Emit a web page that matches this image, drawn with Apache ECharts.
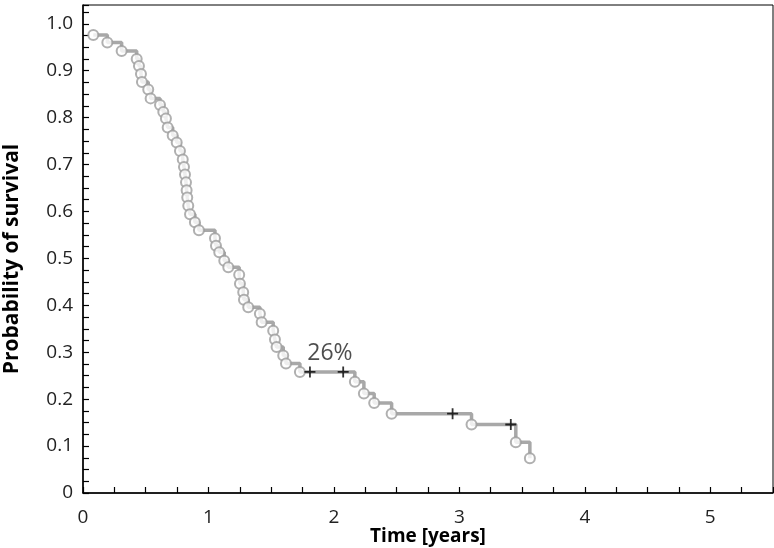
<!DOCTYPE html>
<html>
<head>
<meta charset="utf-8">
<script src="https://cdn.jsdelivr.net/npm/echarts@6/dist/echarts.min.js"></script>
<style>html,body{margin:0;padding:0;background:#fff}#c{width:774px;height:548px}</style>
</head>
<body>
<div id="c"></div>
<script>
// Event times (years) and survival probability after each event
const eventTimes = [0.082,0.194,0.308,0.428,0.446,0.462,0.470,0.520,0.539,0.614,0.640,0.661,0.675,0.715,0.747,0.773,0.795,0.805,0.813,0.821,0.826,0.831,0.839,0.853,0.892,0.924,1.052,1.060,1.086,1.126,1.158,1.245,1.251,1.277,1.283,1.317,1.410,1.424,1.516,1.530,1.543,1.596,1.618,1.729,2.167,2.239,2.321,2.460,3.097,3.450,3.562];
const eventSurv = [0.976,0.960,0.942,0.925,0.910,0.893,0.876,0.860,0.841,0.827,0.812,0.798,0.779,0.762,0.747,0.729,0.711,0.695,0.679,0.662,0.645,0.630,0.612,0.594,0.577,0.560,0.543,0.527,0.513,0.495,0.481,0.465,0.446,0.428,0.412,0.396,0.382,0.364,0.346,0.327,0.311,0.293,0.276,0.258,0.237,0.212,0.192,0.169,0.146,0.108,0.074];
// Censored observations
const censorTimes = [1.809,2.074,2.946,3.410];
const censorSurv = [0.258,0.258,0.169,0.146];
// Annotation
const annotText = '26%';
const annotPos = [1.968, 0.298];
const xTicks = [0,1,2,3,4,5];
const yTicks = [0,0.1,0.2,0.3,0.4,0.5,0.6,0.7,0.8,0.9,1.0];

const stepData = eventTimes.map((t,i)=>[t,eventSurv[i]])
  .concat(censorTimes.map((t,i)=>[t,censorSurv[i]]))
  .sort((a,b)=>a[0]-b[0]);

const font = '"Open Sans", "DejaVu Sans", sans-serif';
const chart = echarts.init(document.getElementById('c'));
chart.setOption({
  animation:false,
  grid:{left:83,right:1,top:5,bottom:55,show:true,borderColor:'#000',borderWidth:1,backgroundColor:'#fff',
        containLabel:false,outerBoundsMode:'none'},
  xAxis:{
    type:'value',min:0,max:5.5,interval:1,
    name:'Time [years]',nameLocation:'middle',nameGap:34,nameMoveOverlap:false,
    nameTextStyle:{fontFamily:font,fontSize:19,fontWeight:'bold',color:'#000'},
    axisLine:{show:true,onZero:false,lineStyle:{color:'#000',width:1.5}},
    axisTick:{show:true,inside:true,length:6,lineStyle:{color:'#000',width:1.2}},
    minorTick:{show:true,splitNumber:4,length:6,lineStyle:{color:'#000',width:1.2}},
    splitLine:{show:false},
    axisLabel:{fontFamily:font,fontSize:19,color:'#222',margin:15,showMaxLabel:false,
      formatter:v=>xTicks.includes(v)?String(v):''}
  },
  yAxis:{
    type:'value',min:0,max:1.04,interval:0.1,
    name:'Probability of survival',nameLocation:'middle',nameGap:60,nameMoveOverlap:false,
    nameTextStyle:{fontFamily:font,fontSize:21,fontWeight:'bold',color:'#000',padding:[0,20,0,0]},
    axisLine:{show:true,onZero:false,lineStyle:{color:'#000',width:1.5}},
    axisTick:{show:true,inside:true,length:6,lineStyle:{color:'#000',width:1.2}},
    minorTick:{show:true,splitNumber:4,length:6,lineStyle:{color:'#000',width:1.2}},
    splitLine:{show:false},
    axisLabel:{fontFamily:font,fontSize:19,color:'#222',margin:10,showMaxLabel:false,
      formatter:v=>{const r=Math.round(v*10)/10; if(Math.abs(r-v)>1e-6) return ''; return r===0?'0':r.toFixed(1);}}
  },
  series:[
    {type:'line',step:'end',data:stepData,showSymbol:false,symbol:'none',
     lineStyle:{color:'#a8a8a8',width:3.5},z:2},
    {type:'scatter',data:eventTimes.map((t,i)=>[t,eventSurv[i]]),symbol:'circle',symbolSize:10,
     itemStyle:{color:'#fff',borderColor:'#9c9c9c',borderWidth:2},z:3},
    {type:'scatter',data:censorTimes.map((t,i)=>[t,censorSurv[i]]),
     symbol:'path://M0,5L10,5M5,0L5,10',symbolSize:11,
     itemStyle:{color:'none',borderColor:'#000',borderWidth:1.8},z:4},
    {type:'scatter',data:[annotPos],symbolSize:0,
     label:{show:true,position:'inside',formatter:annotText,fontFamily:font,fontSize:23,color:'#222'},z:5}
  ]
});
</script>
</body>
</html>
